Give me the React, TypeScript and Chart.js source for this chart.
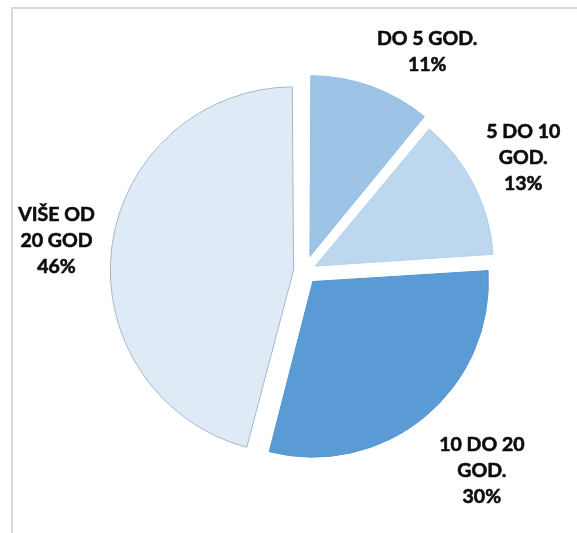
import React, { useEffect, useRef } from "react";
import { Chart, registerables } from "chart.js";

Chart.register(...registerables);

const categories: string[][] = [
  ["DO 5 GOD."],
  ["5 DO 10", "GOD."],
  ["10 DO 20", "GOD."],
  ["VIŠE OD", "20 GOD"],
];
const shares: number[] = [11, 13, 30, 46];
const sliceColors: string[] = ["#9DC3E6", "#BDD7EE", "#5B9BD5", "#DEEBF7"];
const sliceBorders: string[] = ["#95BDE3", "#B2CFEA", "#5896D2", "#A7B6C8"];
const sliceOffsets: number[] = [64, 48, 52, 44];
const labelShift: [number, number][] = [
  [38, 15],
  [-4, 0],
  [18, 7],
  [0, 1],
];

const labelPlugin = {
  id: "sliceLabels",
  afterDatasetsDraw(chart: any) {
    const ctx = chart.ctx;
    const meta = chart.getDatasetMeta(0);
    const ds = chart.data.datasets[0];
    const total = ds.data.reduce((a: number, b: number) => a + b, 0);
    ctx.save();
    ctx.font = "bold 19.5px Lato";
    ctx.fillStyle = "#0d0d0d";
    ctx.strokeStyle = "#0d0d0d";
    ctx.lineWidth = 0.6;
    ctx.textAlign = "center";
    ctx.textBaseline = "middle";
    const lh = 26;
    meta.data.forEach((arc: any, i: number) => {
      const p = arc.getProps(["x", "y", "startAngle", "endAngle"], true);
      const mid = (p.startAngle + p.endAngle) / 2;
      const D = 250;
      const cx = p.x + Math.cos(mid) * D + labelShift[i][0];
      const cy = p.y + Math.sin(mid) * D + labelShift[i][1];
      const lines = [...(chart.data.labels[i] as string[]), Math.round((ds.data[i] / total) * 100) + "%"];
      const y0 = cy - ((lines.length - 1) * lh) / 2;
      lines.forEach((t: string, k: number) => {
        ctx.fillText(t, cx, y0 + k * lh);
        ctx.strokeText(t, cx, y0 + k * lh);
      });
    });
    ctx.restore();
  },
};

export default function App() {
  const ref = useRef<HTMLCanvasElement | null>(null);
  useEffect(() => {
    if (!ref.current) return;
    const chart = new Chart(ref.current, {
      type: "pie",
      data: {
        labels: categories,
        datasets: [
          {
            data: shares,
            backgroundColor: sliceColors,
            borderColor: sliceBorders,
            borderWidth: 1,
            offset: sliceOffsets,
          },
        ],
      },
      options: {
        animation: false,
        responsive: true,
        maintainAspectRatio: false,
        layout: { padding: { left: 97, right: 65, top: 64, bottom: 54 } },
        plugins: { legend: { display: false }, tooltip: { enabled: false } },
      },
      plugins: [labelPlugin],
    });
    return () => chart.destroy();
  }, []);
  return (
    <div style={{ position: "absolute", left: 0, top: 0, width: 577, height: 533, background: "#fff" }}>
      <div
        style={{
          position: "absolute",
          left: 11,
          top: 7,
          right: 0,
          bottom: 0,
          borderTop: "2px solid #D9D9D9",
          borderLeft: "2px solid #D9D9D9",
        }}
      />
      <div style={{ position: "absolute", left: 0, top: 0, width: 577, height: 533 }}>
        <canvas ref={ref} />
      </div>
    </div>
  );
}
